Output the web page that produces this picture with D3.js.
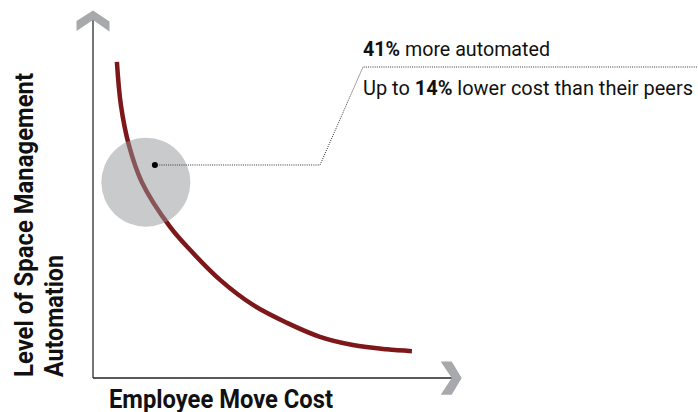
<!DOCTYPE html>
<html>
<head>
<meta charset="utf-8">
<script src="https://cdn.jsdelivr.net/npm/d3@7"></script>
<style>
html,body{margin:0;padding:0;background:#fff;}
svg{display:block;}
</style>
</head>
<body>
<script>
// ---- data ----
const costValues = [6.6, 7.7, 9.9, 13.5, 21.3, 26.8, 35.1, 44.2, 53.6, 62.7, 71.8, 81.2, 88.1];
const automationValues = [88.3, 76.3, 65.1, 54.7, 42.2, 35.8, 27.4, 20.4, 15.4, 11.5, 9.2, 8.0, 7.5];
const highlightCost = [14.6];
const highlightAutomation = [54.7];
const markerCost = [17.1];
const markerAutomation = [59.5];
const xAxisTitle = ["Employee Move Cost"];
const yAxisTitleLines = ["Level of Space Management", "Automation"];
const annotationLine1 = [{t:"41%", b:true}, {t:" more automated", b:false}];
const annotationLine2 = [{t:"Up to ", b:false}, {t:"14%", b:true}, {t:" lower cost than their peers", b:false}];

const W = 698, H = 412;
const svg = d3.select("body").append("svg").attr("width", W).attr("height", H);

const x = d3.scaleLinear().domain([0, 100]).range([93, 455]);
const y = d3.scaleLinear().domain([0, 100]).range([378, 20]);

const FONT = "Roboto,'Liberation Sans',sans-serif";

// axes lines
svg.append("line").attr("x1", x(0)).attr("x2", x(0)).attr("y1", y(0)).attr("y2", y(100))
  .attr("stroke", "#3a3a3a").attr("stroke-width", 1.4);
svg.append("line").attr("x1", x(0)).attr("x2", 452).attr("y1", y(0)).attr("y2", y(0))
  .attr("stroke", "#222").attr("stroke-width", 1.4);

// chevrons
const gray = "#a7a9ac";
const ax = x(0), ay = y(100);
svg.append("path").attr("fill", gray)
  .attr("d", `M${ax-16.5},${ay+1} L${ax},${ay-9.5} L${ax+16.5},${ay+1.5} L${ax+16.5},${ay+11.5} L${ax},${ay} L${ax-16.5},${ay+11} Z`);
const bx = 451.7, by = y(0);
svg.append("path").attr("fill", gray)
  .attr("d", `M${bx-11},${by-16.6} L${bx},${by-16.6} L${bx+10},${by} L${bx},${by+16.7} L${bx-11},${by+16.7} L${bx},${by} Z`);

// curve
const pts = costValues.map((c, i) => [c, automationValues[i]]);
const line = d3.line().x(d => x(d[0])).y(d => y(d[1])).curve(d3.curveCatmullRom.alpha(0.5));
svg.append("path").attr("d", line(pts)).attr("fill", "none")
  .attr("stroke", "#7d1719").attr("stroke-width", 4.5);

// highlight circle
const r = 44.5;
svg.append("circle").attr("cx", x(highlightCost[0])).attr("cy", y(highlightAutomation[0])).attr("r", r)
  .attr("fill", "#939597").attr("fill-opacity", 0.5);

// leader line
const mx = x(markerCost[0]), my = y(markerAutomation[0]);
svg.append("path")
  .attr("d", `M${mx},${my} L320,${my} L363,67 L698,67`)
  .attr("fill", "none").attr("stroke", "#333").attr("stroke-width", 1).attr("stroke-dasharray", "1,1.2");
svg.append("circle").attr("cx", mx).attr("cy", my).attr("r", 3).attr("fill", "#000");

// annotations
function richText(parts, px, py, len, size) {
  const t = svg.append("text").attr("x", px).attr("y", py)
    .attr("font-family", FONT).attr("font-size", size).attr("fill", "#111")
    .attr("textLength", len).attr("lengthAdjust", "spacingAndGlyphs");
  parts.forEach(p => t.append("tspan").attr("font-weight", p.b ? "bold" : "normal").text(p.t));
  return t;
}
richText(annotationLine1, 363, 56, 187, 19.5);
richText(annotationLine2, 363, 95, 330, 20);

// axis titles
svg.append("text").attr("x", 109).attr("y", 407.5)
  .attr("font-family", FONT).attr("font-size", 25).attr("font-weight", "bold").attr("fill", "#111")
  .attr("textLength", 224).attr("lengthAdjust", "spacingAndGlyphs")
  .text(xAxisTitle[0]);

const yLens = [304, 122];
const yBase = [33, 63];
yAxisTitleLines.forEach((s, i) => {
  svg.append("text")
    .attr("transform", `translate(${yBase[i]},377) rotate(-90)`)
    .attr("font-family", FONT).attr("font-size", 25).attr("font-weight", "bold").attr("fill", "#111")
    .attr("textLength", yLens[i]).attr("lengthAdjust", "spacingAndGlyphs")
    .text(s);
});
</script>
</body>
</html>
